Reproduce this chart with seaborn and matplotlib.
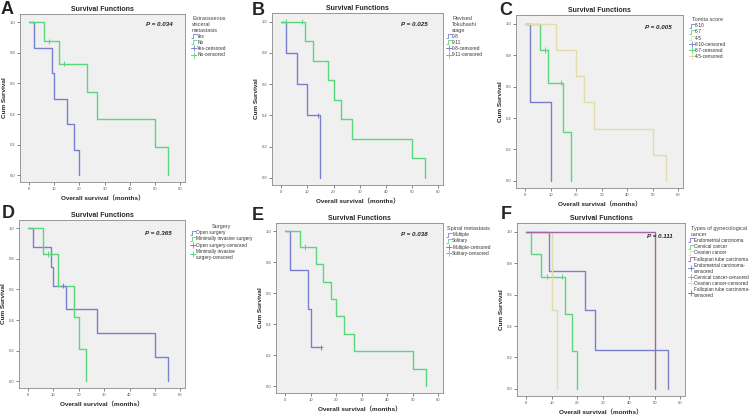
import matplotlib
matplotlib.use("Agg")
import matplotlib.pyplot as plt
from matplotlib.lines import Line2D
from matplotlib.path import Path
import seaborn as sns
import pandas as pd

# ---------------- data ----------------
# Panel A: Extraosseous visceral metastasis
A_groups = ["Yes", "No"]
A_times = [[0, 2, 9, 10, 15, 18, 20], [0, 6, 12, 23, 27, 50, 55]]
A_surv = [[1, .833, .667, .5, .333, .167, 0], [1, .875, .729, .547, .365, .182, 0]]
A_cens_t = [[], [8, 14]]
A_cens_s = [[], [.875, .729]]

# Panel B: Revised Tokuhashi stage
B_groups = ["0-8", "9-11"]
B_times = [[0, 2, 6, 10, 15], [0, 9, 12, 18, 20, 23, 27, 50, 55]]
B_surv = [[1, .8, .6, .4, 0], [1, .875, .75, .625, .5, .375, .25, .125, 0]]
B_cens_t = [[14], [2, 8]]
B_cens_s = [[.4], [1.0, 1.0]]

# Panel C: Tomita score
C_groups = ["8-10", "6-7", "4-5"]
C_times = [[0, 2, 10], [0, 6, 9, 15, 18], [0, 12, 20, 23, 27, 50, 55]]
C_surv = [[1, .5, 0], [1, .833, .625, .3125, 0], [1, .833, .667, .5, .333, .167, 0]]
C_cens_t = [[], [8, 14], []]
C_cens_s = [[], [.833, .625], []]

# Panel D: Surgery
D_groups = ["Open surgery", "Minimally invasive surgery"]
D_times = [[0, 2, 9, 10, 15, 27, 50, 55], [0, 6, 12, 18, 20, 23]]
D_surv = [[1, .875, .75, .625, .469, .3125, .156, 0], [1, .833, .625, .417, .208, 0]]
D_cens_t = [[14], [8]]
D_cens_s = [[.625], [.833]]

# Panel E: Spinal metastasis
E_groups = ["Multiple", "Solitary"]
E_times = [[0, 2, 9, 10, 14], [0, 6, 12, 15, 18, 20, 23, 27, 50, 55]]
E_surv = [[1, .75, .5, .25, .25], [1, .9, .787, .675, .562, .45, .337, .225, .1125, 0]]
E_cens_t = [[14], [8]]
E_cens_s = [[.25], [.9]]

# Panel F: Types of gynecological cancer
F_groups = ["Endometrial carcinoma", "Cervical cancer", "Ovarian cancer", "Fallopian tube carcinoma"]
F_times = [[0, 9, 23, 27, 55], [0, 2, 6, 15, 18, 20], [0, 10, 12], [0, 50]]
F_surv = [[1, .75, .5, .25, 0], [1, .857, .714, .476, .238, 0], [1, .5, 0], [1, 0]]
F_cens_t = [[], [8, 14], [], []]
F_cens_s = [[], [.714, .714], [], []]

p_values = ["P = 0.034", "P = 0.025", "P = 0.005", "P = 0.365", "P = 0.038", "P = 0.111"]
legend_titles = ["Extraosseous\nvisceral\nmetastasis", "Revised\nTokuhashi\nstage", "Tomita score",
                 "Surgery", "Spinal metastasis", "Types of gynecological\ncancer"]
censor_labels = {
    "D": ["Open surgery-censored", "Minimally invasive\nsurgery-censored"],
    "F": ["Endometrial carcinoma-\ncensored", "Cervical cancer-censored",
          "Ovarian cancer-censored", "Fallopian tube carcinoma-\ncensored"],
}
x_ticks = [0, 10, 20, 30, 40, 50, 60]
y_ticks = [0.0, 0.2, 0.4, 0.6, 0.8, 1.0]

# ---------------- style ----------------
sns.set_style("white")
plt.rcParams["font.family"] = ["Liberation Sans", "Noto Sans CJK SC", "DejaVu Sans"]

BLUE = "#7b7fd0"
GREEN = "#5ad67c"
BEIGE = "#e2dcaa"
PURPLE = "#a565a8"
palettes = [[BLUE, GREEN], [BLUE, GREEN], [BLUE, GREEN, BEIGE],
            [BLUE, GREEN], [BLUE, GREEN], [BLUE, GREEN, BEIGE, PURPLE]]

W, H = 753, 418
fig = plt.figure(figsize=(W / 100, H / 100), dpi=100)

# axes boxes in pixels: left, top, right, bottom
boxes = [(20, 14, 185, 182), (272, 13, 443, 185), (516, 15, 683, 188),
         (19, 220, 185, 388), (276, 223, 443, 393), (517, 223, 685, 396)]
legend_anchor = [(191, 16), (446, 16), (689, 17), (190, 224), (446, 226), (688, 226)]
letters = ["A", "B", "C", "D", "E", "F"]
letter_pos = [(1, 1), (252, 2), (499, 2), (2, 205), (252, 207), (501, 206)]
p_pos = [(0.927, 0.94), (0.912, 0.936), (0.934, 0.93), (0.92, 0.92), (0.91, 0.935), (0.93, 0.92)]

panels = [
    ("A", A_groups, A_times, A_surv, A_cens_t, A_cens_s),
    ("B", B_groups, B_times, B_surv, B_cens_t, B_cens_s),
    ("C", C_groups, C_times, C_surv, C_cens_t, C_cens_s),
    ("D", D_groups, D_times, D_surv, D_cens_t, D_cens_s),
    ("E", E_groups, E_times, E_surv, E_cens_t, E_cens_s),
    ("F", F_groups, F_times, F_surv, F_cens_t, F_cens_s),
]

step_marker = Path([(-1.0, -0.6), (-0.45, -0.6), (-0.45, 0.6), (1.0, 0.6)],
                   [Path.MOVETO, Path.LINETO, Path.LINETO, Path.LINETO])

for i, (key, groups, times, surv, ct, cs) in enumerate(panels):
    l, t, r, b = boxes[i]
    ax = fig.add_axes([l / W, 1 - b / H, (r - l) / W, (b - t) / H])
    ax.set_facecolor("#f0f0f0")
    pal = dict(zip(groups, palettes[i]))

    rows = []
    for g, ts, ss in zip(groups, times, surv):
        for tt, sv in zip(ts, ss):
            rows.append({"t": tt, "s": sv, "g": g})
    df = pd.DataFrame(rows)
    sns.lineplot(data=df, x="t", y="s", hue="g", palette=pal, estimator=None,
                 drawstyle="steps-post", linewidth=1.0, legend=False, ax=ax, sort=False,
                 units="g")

    crow = []
    for g, ts, ss in zip(groups, ct, cs):
        for tt, sv in zip(ts, ss):
            crow.append({"t": tt, "s": sv, "g": g})
    if crow:
        cdf = pd.DataFrame(crow)
        sns.scatterplot(data=cdf, x="t", y="s", hue="g", palette=pal, marker="+",
                        s=14, linewidth=0.7, legend=False, ax=ax, zorder=5)

    ax.set_xlim(-3.5, 61.8)
    ax.set_ylim(-0.045, 1.055)
    ax.set_xticks(x_ticks)
    ax.set_yticks(y_ticks)
    ax.set_yticklabels([f"{v:.1f}" for v in y_ticks])
    ax.tick_params(axis="both", direction="out", length=2, width=0.5, labelsize=3,
                   colors="#555555", pad=1.5, bottom=True, left=True)
    for sp in ax.spines.values():
        sp.set_color("#8a8a8a")
        sp.set_linewidth(0.6)

    ax.set_title("Survival Functions", fontsize=5, fontweight="bold", pad=2.5)
    ax.set_xlabel("Overall survival（months）", fontsize=4.6, fontweight="bold", labelpad=3)
    ax.set_ylabel("Cum Survival", fontsize=4.6, fontweight="bold", labelpad=1.5)
    ax.text(p_pos[i][0], p_pos[i][1], p_values[i], transform=ax.transAxes,
            ha="right", va="center", fontsize=4.5, fontweight="bold", style="italic")

    handles = []
    labels = []
    for g in groups:
        handles.append(Line2D([], [], color=pal[g], marker=step_marker, linestyle="None",
                              markersize=4.5, markerfacecolor="none", markeredgewidth=0.6))
        labels.append(g)
    clabs = censor_labels.get(key, [f"{g}-censored" for g in groups])
    for g, lab in zip(groups, clabs):
        handles.append(Line2D([], [], color=pal[g], marker="+", linestyle="-", linewidth=0.6,
                              markersize=4, markeredgewidth=0.6))
        labels.append(lab)
    ax_, ay_ = legend_anchor[i]
    leg = ax.legend(handles, labels, title=legend_titles[i], loc="upper left",
                    bbox_to_anchor=(ax_ / W, 1 - ay_ / H), bbox_transform=fig.transFigure,
                    frameon=False, fontsize=3.4, title_fontsize=4, handlelength=1.1,
                    handletextpad=0.2, labelspacing=0.25, borderaxespad=0, borderpad=0)
    leg.get_title().set_color("#444444")
    for txt in leg.get_texts():
        txt.set_color("#333333")

    fig.text(letter_pos[i][0] / W, 1 - letter_pos[i][1] / H, letters[i], fontsize=13,
             fontweight="bold", ha="left", va="top")

fig.savefig("out.png", dpi=100)
